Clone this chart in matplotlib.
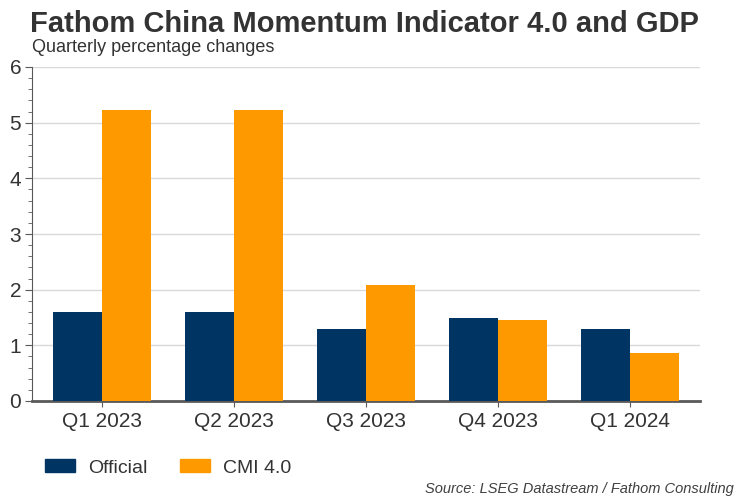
import matplotlib.pyplot as plt
import numpy as np
from matplotlib.ticker import MultipleLocator
from matplotlib.patches import Patch

quarters = ['Q1 2023', 'Q2 2023', 'Q3 2023', 'Q4 2023', 'Q1 2024']
official = [1.6, 1.6, 1.3, 1.5, 1.3]
cmi = [5.22, 5.22, 2.08, 1.45, 0.86]

navy = '#003462'
orange = '#FF9900'
txt = '#333333'

plt.rcParams['font.family'] = ['Liberation Sans', 'DejaVu Sans']

fig = plt.figure(figsize=(7.5, 5), dpi=100)
ax = fig.add_axes([0.043, 0.198, 0.890, 0.668])

x = np.arange(len(quarters))
w = 0.371
ax.bar(x - w / 2, official, w, color=navy, zorder=3)
ax.bar(x + w / 2, cmi, w, color=orange, zorder=3)

ax.set_xlim(-0.53, 4.53)
ax.set_ylim(0, 6)
ax.yaxis.set_major_locator(MultipleLocator(1))
ax.yaxis.set_minor_locator(MultipleLocator(0.2))
ax.grid(axis='y', color='#d9d9d9', linewidth=1, zorder=0)
ax.set_xticks(x)
ax.set_xticklabels(quarters)
ax.tick_params(axis='y', which='major', length=5, color='#595959', labelsize=15, labelcolor=txt, pad=3)
ax.tick_params(axis='y', which='minor', length=3, color='#595959')
ax.tick_params(axis='x', length=4, color='#595959', labelsize=15, labelcolor=txt, pad=4)

for s in ['top', 'right']:
    ax.spines[s].set_visible(False)
ax.spines['left'].set_color('#595959')
ax.spines['bottom'].set_color('#595959')
ax.spines['bottom'].set_linewidth(2)

fig.text(0.04, 0.935, 'Fathom China Momentum Indicator 4.0 and GDP', fontsize=21, fontweight='bold',
         color=txt)
fig.text(0.043, 0.895, 'Quarterly percentage changes', fontsize=13, color=txt)

handles = [Patch(color=navy, label='Official'), Patch(color=orange, label='CMI 4.0')]
fig.legend(handles=handles, loc='center left', bbox_to_anchor=(0.06, 0.064), ncol=2, frameon=False,
           fontsize=14, handlelength=1.54, handleheight=0.62, handletextpad=0.67, columnspacing=1.7,
           borderpad=0, borderaxespad=0, labelcolor=txt)

fig.text(0.978, 0.014, 'Source: LSEG Datastream / Fathom Consulting', fontsize=10.5, style='italic',
         color='#404040', ha='right')

plt.savefig('out.png', dpi=100)
